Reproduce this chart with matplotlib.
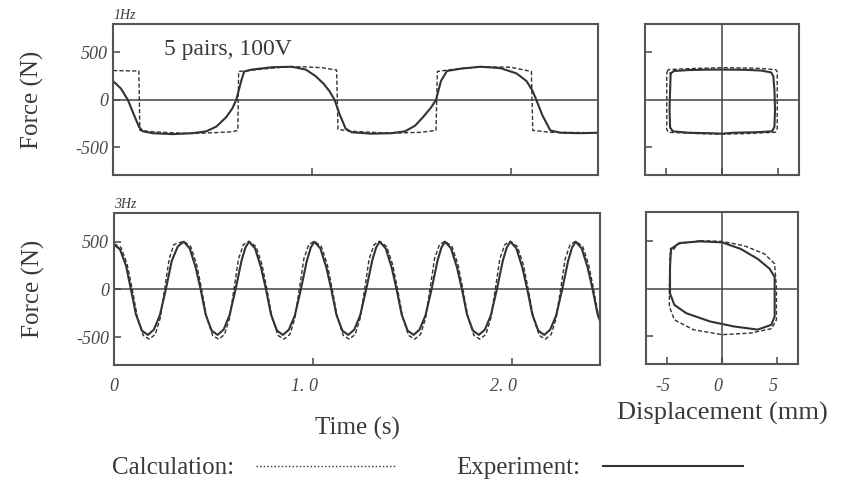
import numpy as np
import matplotlib
matplotlib.use("Agg")
import matplotlib.pyplot as plt
from matplotlib.lines import Line2D
from matplotlib.transforms import ScaledTranslation

plt.rcParams['font.family'] = ['Liberation Serif', 'DejaVu Serif']

# ---- 1 Hz force vs time ----
t1_calc = [0.00, 0.13, 0.135, 0.20, 0.35, 0.45, 0.60, 0.628, 0.632, 0.70, 0.85, 0.95, 1.05, 1.125,
           1.132, 1.20, 1.40, 1.55, 1.625, 1.632, 1.70, 1.85, 2.00, 2.105, 2.112, 2.20, 2.44]
f1_calc = [310, 305, -320, -335, -350, -350, -335, -320, 300, 315, 345, 350, 340, 315,
           -310, -330, -350, -340, -320, 300, 320, 350, 345, 300, -320, -340, -345]

t1_exp = [0.00, 0.04, 0.075, 0.10, 0.13, 0.15, 0.20, 0.30, 0.40, 0.47, 0.52, 0.57, 0.60, 0.62,
          0.645, 0.66, 0.70, 0.80, 0.90, 0.97, 1.02, 1.06, 1.09, 1.115, 1.14, 1.17, 1.20, 1.30,
          1.40, 1.47, 1.52, 1.56, 1.60, 1.625, 1.65, 1.68, 1.75, 1.85, 1.95, 2.03, 2.08, 2.11,
          2.13, 2.16, 2.20, 2.25, 2.35, 2.44]
f1_exp = [200, 120, 0, -130, -280, -330, -350, -360, -350, -330, -280, -180, -90, 0,
          200, 300, 320, 345, 350, 320, 250, 170, 90, 0, -150, -300, -340, -355,
          -350, -330, -270, -180, -80, 0, 200, 305, 330, 350, 335, 280, 200, 100,
          0, -160, -320, -345, -350, -345]

# ---- 3 Hz force vs time ----
t3_exp = [0.00, 0.03, 0.06, 0.085, 0.11, 0.14, 0.17, 0.20, 0.23, 0.26, 0.29, 0.32,
          0.350, 0.380, 0.410, 0.435, 0.460, 0.490, 0.520, 0.550, 0.580, 0.610, 0.640, 0.660,
          0.678, 0.708, 0.738, 0.763, 0.788, 0.818, 0.848, 0.878, 0.908, 0.938, 0.968, 0.988,
          1.006, 1.036, 1.066, 1.091, 1.116, 1.146, 1.176, 1.206, 1.236, 1.266, 1.296, 1.316,
          1.334, 1.364, 1.394, 1.419, 1.444, 1.474, 1.504, 1.534, 1.564, 1.594, 1.624, 1.644,
          1.662, 1.692, 1.722, 1.747, 1.772, 1.802, 1.832, 1.862, 1.892, 1.922, 1.952, 1.972,
          1.990, 2.020, 2.050, 2.075, 2.100, 2.130, 2.160, 2.190, 2.220, 2.250, 2.280, 2.300,
          2.318, 2.348, 2.378, 2.403, 2.428, 2.440]
f3_exp = [470, 420, 250, 0, -260, -430, -475, -420, -270, 0, 300, 450,
          500, 430, 230, 0, -260, -430, -475, -420, -270, 0, 300, 440,
          500, 430, 230, 0, -260, -430, -475, -420, -270, 0, 300, 440,
          500, 430, 230, 0, -260, -430, -475, -420, -270, 0, 300, 440,
          500, 430, 230, 0, -260, -430, -475, -420, -270, 0, 300, 440,
          500, 430, 230, 0, -260, -430, -475, -420, -270, 0, 300, 440,
          500, 430, 230, 0, -260, -430, -475, -420, -270, 0, 300, 440,
          500, 430, 230, 0, -260, -330]

t3_calc = [0.000, 0.035, 0.065, 0.092, 0.117, 0.147, 0.177, 0.207, 0.232, 0.254, 0.277, 0.300,
           0.350, 0.385, 0.415, 0.440, 0.465, 0.495, 0.525, 0.555, 0.580, 0.602, 0.625, 0.650,
           0.678, 0.713, 0.743, 0.768, 0.793, 0.823, 0.853, 0.883, 0.908, 0.930, 0.953, 0.978,
           1.006, 1.041, 1.071, 1.096, 1.121, 1.151, 1.181, 1.211, 1.236, 1.258, 1.281, 1.306,
           1.334, 1.369, 1.399, 1.424, 1.449, 1.479, 1.509, 1.539, 1.564, 1.586, 1.609, 1.634,
           1.662, 1.697, 1.727, 1.752, 1.777, 1.807, 1.837, 1.867, 1.892, 1.914, 1.937, 1.962,
           1.990, 2.025, 2.055, 2.080, 2.105, 2.135, 2.165, 2.195, 2.220, 2.242, 2.265, 2.290,
           2.318, 2.353, 2.383, 2.408, 2.433, 2.440]
f3_calc = [480, 440, 270, 0, -290, -480, -520, -470, -300, 0, 320, 470,
           505, 450, 260, 0, -290, -480, -520, -470, -300, 0, 320, 470,
           505, 450, 260, 0, -290, -480, -520, -470, -300, 0, 320, 470,
           505, 450, 260, 0, -290, -480, -520, -470, -300, 0, 320, 470,
           505, 450, 260, 0, -290, -480, -520, -470, -300, 0, 320, 470,
           505, 450, 260, 0, -290, -480, -520, -470, -300, 0, 320, 470,
           505, 450, 260, 0, -290, -480, -520, -470, -300, 0, 320, 470,
           505, 450, 260, 0, -290, -200]

# ---- hysteresis loops: force vs displacement ----
x1_exp = [-4.6, -4.3, -3.0, -1.0, 0.0, 2.0, 3.5, 4.4, 4.6, 4.7, 4.75, 4.7, 4.5, 3.0, 1.0, 0.0,
          -1.0, -3.0, -4.4, -4.65, -4.7, -4.65, -4.6]
y1_exp = [280, 305, 315, 320, 320, 318, 310, 290, 250, 100, -100, -280, -330, -340, -345, -355,
          -350, -345, -330, -290, -100, 100, 280]
x1_calc = [-4.9, -4.8, -3.0, 0.0, 3.0, 4.8, 4.95, 4.95, 4.8, 2.0, 0.0, -2.0, -4.8, -4.95, -4.95, -4.9]
y1_calc = [300, 320, 330, 340, 335, 320, 300, -300, -340, -355, -360, -355, -340, -310, 280, 300]

x3_exp = [-4.63, -3.86, -2.0, 0.0, 1.7, 3.24, 4.32, 4.78, 4.78, 4.78, 4.48, 3.24, 1.08, -1.08,
          -3.24, -4.32, -4.72, -4.72, -4.63]
y3_exp = [414, 476, 493, 483, 414, 310, 207, 120, 0, -293, -380, -430, -397, -345,
          -259, -172, -52, 224, 414]
x3_calc = [-2.0, 0.0, 2.0, 3.86, 4.78, 4.94, 4.94, 4.5, 2.6, 0.0, -2.6, -4.32, -4.78, -4.78,
           -4.72, -4.0, -2.0]
y3_calc = [500, 493, 448, 362, 259, 0, -328, -420, -466, -483, -431, -328, -190, 17,
           362, 466, 500]

ink = '#333333'
frame = '#555555'
txt = '#3a3a3a'
dash = (0, (3, 1.6))

fig = plt.figure(figsize=(8.44, 4.99), dpi=100)
ax1 = fig.add_axes([0.1339, 0.6493, 0.5746, 0.3026])
ax2 = fig.add_axes([0.1351, 0.2685, 0.5758, 0.3046])
ax3 = fig.add_axes([0.7642, 0.6493, 0.1825, 0.3026])
ax4 = fig.add_axes([0.7654, 0.2705, 0.1801, 0.3046])

for ax in (ax1, ax2, ax3, ax4):
    for s in ax.spines.values():
        s.set_color(frame)
        s.set_linewidth(1.5)
    ax.tick_params(direction='in', length=5, width=1.2, color=frame, labelsize=13,
                   labelcolor='#474747')
    ax.set_ylim(-790, 800)
    ax.axhline(0, color='#444444', lw=1.1)

# time plots
ax1.plot(t1_calc, f1_calc, color=ink, lw=1.0, ls=dash)
ax1.plot(t1_exp, f1_exp, color=ink, lw=1.5)
ax2.plot(t3_calc, f3_calc, color=ink, lw=1.0, ls=dash)
ax2.plot(t3_exp, f3_exp, color=ink, lw=1.5)

for ax in (ax1, ax2):
    ax.set_xlim(0, 2.44)
    ax.set_yticks([-500, 0, 500])
    ax.set_yticklabels(['-500', '0', '500'], style='italic')
    ax.set_ylabel('Force (N)', fontsize=18, color=txt)
    ax.yaxis.set_label_coords(-0.142, 0.5)
    ax.set_xticks([0, 1.0, 2.0])
ax1.set_xticklabels([])
ax2.set_xticklabels(['0', '1. 0', '2. 0'], style='italic')
ax2.tick_params(axis='x', pad=9)
for lab in ax2.get_xticklabels()[1:]:
    lab.set_transform(lab.get_transform() + ScaledTranslation(-9 / 100, 0, fig.dpi_scale_trans))
ax2.set_xlabel('Time (s)', fontsize=18, color=txt, labelpad=16)

ax1.text(0.0, 1.015, '1Hz', transform=ax1.transAxes, fontsize=10, style='italic',
         color=txt, va='bottom')
ax2.text(0.0, 1.015, '3Hz', transform=ax2.transAxes, fontsize=10, style='italic',
         color=txt, va='bottom')
ax1.text(0.105, 0.83, '5 pairs, 100V', transform=ax1.transAxes, fontsize=17,
         color=txt, va='center')

# loop plots
ax3.plot(x1_calc, y1_calc, color=ink, lw=1.0, ls=dash)
ax3.plot(x1_exp, y1_exp, color=ink, lw=1.5)
ax4.plot(x3_calc, y3_calc, color=ink, lw=1.0, ls=dash)
ax4.plot(x3_exp, y3_exp, color=ink, lw=1.5)

for ax in (ax3, ax4):
    ax.set_xlim(-6.9, 6.9)
    ax.axvline(0, color='#444444', lw=1.1)
    ax.set_yticks([-500, 500])
    ax.set_yticklabels([])
    ax.set_xticks([-5, 0, 5])
ax3.set_xticklabels([])
ax4.set_xticklabels(['-5', '0', '5'], style='italic')
ax4.tick_params(axis='x', pad=10)
for lab in ax4.get_xticklabels():
    lab.set_transform(lab.get_transform() + ScaledTranslation(-4 / 100, 0, fig.dpi_scale_trans))
ax4.set_xlabel('Displacement (mm)', fontsize=19, color=txt, labelpad=5)

handles = [Line2D([], [], color=ink, lw=1.0, ls=(0, (1, 1.6))),
           Line2D([], [], color=ink, lw=1.5)]
fig.legend(handles, ['Calculation:', 'Experiment:'], loc='center',
           bbox_to_anchor=(0.506, 0.062), ncol=2, frameon=False, markerfirst=False,
           handlelength=5.6, columnspacing=2.4, handletextpad=0.9,
           prop={'size': 18}, labelcolor=txt)

fig.savefig('out.png', dpi=100, facecolor='white')
